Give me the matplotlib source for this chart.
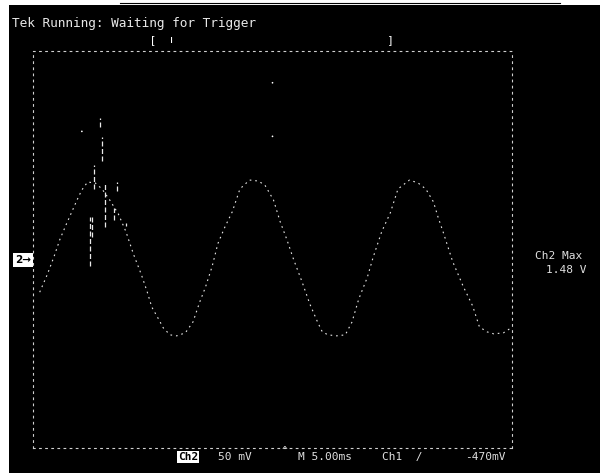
import matplotlib
matplotlib.use("Agg")
import matplotlib.pyplot as plt
from matplotlib.patches import Rectangle

# scope trace, Ch2: time (ms, 5 ms/div) and voltage (mV above the Ch2 ground marker)
t_ms = [0.7, 1.5, 2.2, 2.8, 3.5, 4.1, 4.6, 5.1, 5.7, 6.5, 7.2, 8.0, 8.9, 9.7,
        10.5, 11.3, 11.9, 12.4, 13.1, 13.6, 14.3, 15.0, 15.9, 16.7, 17.4, 18.0,
        18.7, 19.3, 20.0, 20.8, 21.6, 22.6, 23.5, 24.2, 25.1, 25.8, 26.5, 27.2,
        28.1, 28.9, 29.7, 30.2, 30.8, 31.7, 32.6, 33.3, 34.0, 34.9, 35.5, 36.4,
        37.3, 38.1, 39.3, 40.2, 41.0, 41.8, 42.3, 42.8, 43.8, 44.9, 45.9, 46.6,
        47.4, 48.1, 49.1, 49.9]
v_mv = [-33, -15, 3, 20, 36, 49, 60, 70, 78, 77, 71, 60, 46, 28,
        5, -15, -32, -48, -60, -69, -76, -77, -74, -63, -43, -28,
        -7, 16, 32, 48, 71, 80, 79, 75, 60, 38, 20, 0,
        -23, -45, -63, -73, -76, -77, -76, -63, -40, -18, 2, 28,
        47, 71, 80, 77, 71, 58, 42, 28, -2, -27, -47, -68,
        -73, -75, -74, -69]

# glitch spikes near the first peak
spike_t = [7.0, 7.2, 6.4, 7.5, 8.5, 8.8, 5.9, 6.2, 9.7]
spike_lo = [133, 99, 71, 33, 40, 69, -7, 23, 34]
spike_hi = [142, 123, 95, 78, 52, 78, 43, 43, 37]

# stray dots on the screen
dot_t = [25.0, 25.0, 5.1]
dot_v = [178, 124, 129]

fig = plt.figure(figsize=(6, 4.73), dpi=100, facecolor="black")

# scan borders
fig.patches.append(Rectangle((0, 0), 9 / 600, 1, transform=fig.transFigure,
                             facecolor="white", edgecolor="none"))
fig.patches.append(Rectangle((0, 1 - 5 / 473), 1, 5 / 473, transform=fig.transFigure,
                             facecolor="white", edgecolor="none"))
fig.lines.append(plt.Line2D([120 / 600, 560 / 600], [1 - 3 / 473, 1 - 3 / 473],
                            transform=fig.transFigure, color="black", lw=0.8))

ax = fig.add_axes([33 / 600, 1 - 448 / 473, 479 / 600, 397 / 473])
ax.set_facecolor("black")
ax.set_xlim(0, 50)
ax.set_ylim(-190, 210)
ax.set_xticks([])
ax.set_yticks([])
for side in ax.spines.values():
    side.set_color("#d0d0d0")
    side.set_linewidth(0.8)
    side.set_linestyle((0, (1.5, 4)))

ax.plot(t_ms, v_mv, color="#e8e8e8", lw=0.8, linestyle=(0, (1.5, 3.5)))
ax.vlines(spike_t, spike_lo, spike_hi, color="#e8e8e8", lw=0.9,
          linestyles=(0, (4, 2)))
ax.scatter(dot_t, dot_v, s=1.5, color="white", edgecolors="none")

mono = "DejaVu Sans Mono"
fig.text(12 / 600, 1 - 23 / 473, "Tek Running: Waiting for Trigger",
         color="#e8e8e8", fontsize=9.2, family=mono, va="center", ha="left")
fig.text(153 / 600, 1 - 40 / 473, "[", color="white", fontsize=8, va="center", ha="center")
fig.text(172 / 600, 1 - 40 / 473, "ı", color="white", fontsize=8, va="center", ha="center")
fig.text(390 / 600, 1 - 40 / 473, "]", color="white", fontsize=8, va="center", ha="center")

fig.text(23 / 600, 1 - 260 / 473, "2→", color="black", fontsize=7.5, weight="bold",
         va="center", ha="center",
         bbox=dict(facecolor="white", edgecolor="none", boxstyle="square,pad=0.15"))

fig.text(535 / 600, 1 - 256 / 473, "Ch2 Max", color="#e0e0e0", fontsize=8,
         family=mono, va="center", ha="left")
fig.text(546 / 600, 1 - 270 / 473, "1.48 V", color="#e0e0e0", fontsize=8,
         family=mono, va="center", ha="left")

fig.text(188 / 600, 1 - 457 / 473, "Ch2", color="black", fontsize=8, weight="bold",
         family=mono, va="center", ha="center",
         bbox=dict(facecolor="white", edgecolor="none", boxstyle="square,pad=0.1"))
fig.text(218 / 600, 1 - 457 / 473, "50 mV", color="#e0e0e0", fontsize=8,
         family=mono, va="center", ha="left")
fig.text(285 / 600, 1 - 451 / 473, "^", color="#e0e0e0", fontsize=7,
         family=mono, va="center", ha="center")
fig.text(298 / 600, 1 - 457 / 473, "M 5.00ms", color="#e0e0e0", fontsize=8,
         family=mono, va="center", ha="left")
fig.text(382 / 600, 1 - 457 / 473, "Ch1  /", color="#e0e0e0", fontsize=8,
         family=mono, va="center", ha="left")
fig.text(465 / 600, 1 - 457 / 473, "-470mV", color="#e0e0e0", fontsize=8,
         family=mono, va="center", ha="left")

fig.savefig("out.png", dpi=100, facecolor="black")
